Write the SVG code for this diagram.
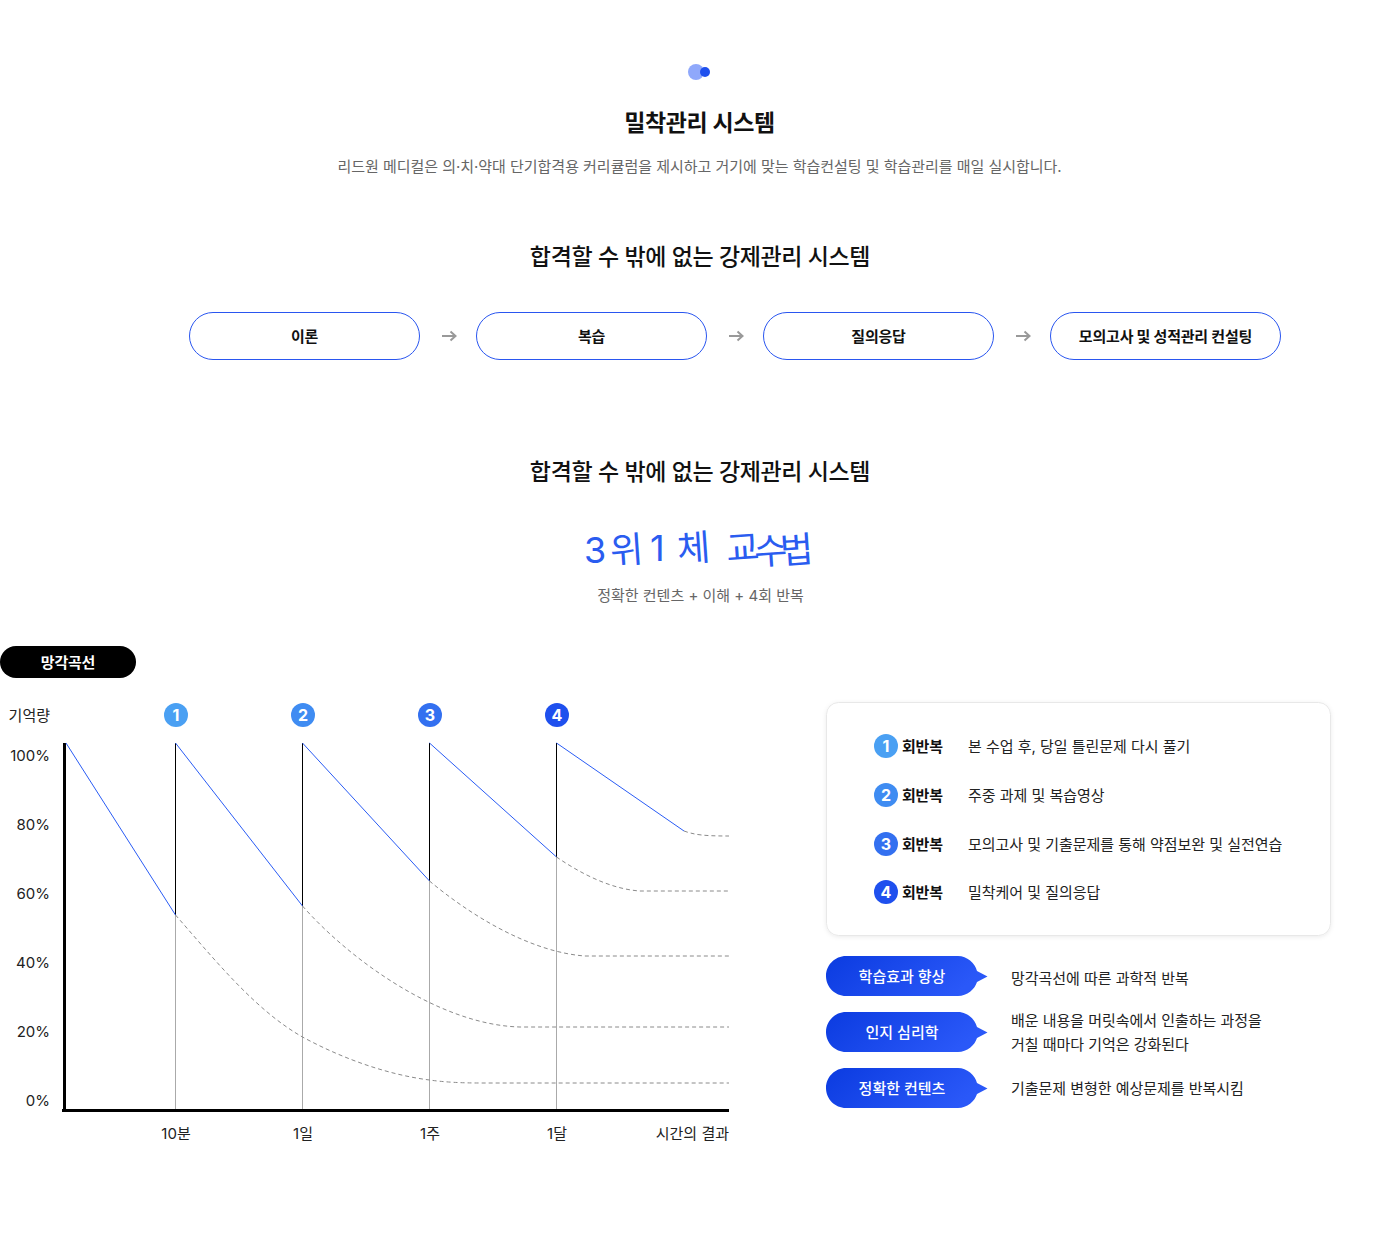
<svg xmlns="http://www.w3.org/2000/svg" width="1400" height="1234" viewBox="0 0 1400 1234">
<style>
text{font-family:Inter,"Noto Sans CJK KR",sans-serif;fill:#111}
.c{text-anchor:middle}.e{text-anchor:end}
.h1{font-size:23px;font-weight:700;letter-spacing:-.4px}
.h2{font-size:23px;font-weight:500;letter-spacing:-.39px}
.sub{font-size:15px;fill:#666;letter-spacing:-.03px}
.pill{fill:#fff;stroke:#2a56f0;stroke-width:1}
.pt{font-size:15px;font-weight:700;letter-spacing:-.2px}
.arr{fill:none;stroke:#999;stroke-width:2}
.ax{font-size:15px;fill:#222;letter-spacing:0}
.num{font-size:16px;font-weight:700;fill:#fff}
.blue{fill:none;stroke:#2a5cf5;stroke-width:1}
.blk{stroke:#000;stroke-width:1;fill:none}
.gry{stroke:#aaa;stroke-width:1;fill:none}
.dash{fill:none;stroke:#8a8a8a;stroke-width:1;stroke-dasharray:4 3}
.tag{font-size:15px;font-weight:500;fill:#fff;letter-spacing:0}
.bd{font-size:15px;font-weight:700;letter-spacing:-.2px}
.t{font-size:15px;fill:#222;letter-spacing:-.03px}
</style>
<defs>
<linearGradient id="g" x1="0" y1="0" x2="1" y2="0.3"><stop offset="0" stop-color="#0b3be0"/><stop offset="1" stop-color="#2a58f8"/></linearGradient>
<filter id="sh" x="-5%" y="-5%" width="110%" height="110%"><feDropShadow dx="0" dy="1" stdDeviation="2" flood-color="#000" flood-opacity=".08"/></filter>
<path id="bub" d="M846 0H958C967 0 975 7 977 15L987.500 20.500L977 26C975 33 967 40 958 40H846C835 40 826 31 826 20S835 0 846 0Z" fill="url(#g)"/>
</defs>
<g id="logo"><circle cx="696" cy="72" r="8" fill="#8fa8fb"/><circle cx="705" cy="72" r="5" fill="#1f50ee"/></g>
<g id="header">
<text class="h1 c" x="699.500" y="131">밀착관리 시스템</text>
<text class="sub c" x="699.500" y="172">리드원 메디컬은 의·치·약대 단기합격용 커리큘럼을 제시하고 거기에 맞는 학습컨설팅 및 학습관리를 매일 실시합니다.</text>
<text class="h2 c" x="700" y="265">합격할 수 밖에 없는 강제관리 시스템</text>
</g>
<g id="n1"><rect class="pill" x="189.500" y="312.500" width="230" height="47" rx="23.500"/><text class="pt c" x="304.500" y="342">이론</text></g>
<g id="n2"><rect class="pill" x="476.500" y="312.500" width="230" height="47" rx="23.500"/><text class="pt c" x="591.500" y="342">복습</text></g>
<g id="n3"><rect class="pill" x="763.500" y="312.500" width="230" height="47" rx="23.500"/><text class="pt c" x="878.500" y="342">질의응답</text></g>
<g id="n4"><rect class="pill" x="1050.500" y="312.500" width="230" height="47" rx="23.500"/><text class="pt c" x="1165.500" y="342">모의고사 및 성적관리 컨설팅</text></g>
<g id="connectors-top">
<path class="arr" d="M442 336H455M450.500 331.500L455.500 336L450.500 340.500"/>
<path class="arr" d="M729 336H742M737.500 331.500L742.500 336L737.500 340.500"/>
<path class="arr" d="M1016 336H1029M1024.500 331.500L1029.500 336L1024.500 340.500"/>
</g>
<g id="section2">
<text class="h2 c" x="700" y="480">합격할 수 밖에 없는 강제관리 시스템</text>
<text x="584 611 648 650 678 715 727 755 781" y="563 564 563 561 562 562 562 565 564" rotate="0 -4 0 0 -4 0 -4 -4 -4" style="font-size:36px;font-weight:400;fill:#2a5cf0">3위 1체 교수법</text>
<text class="sub c" x="700.500" y="601" style="letter-spacing:0">정확한 컨텐츠 + 이해 + 4회 반복</text>
</g>
<g id="badge"><rect x="0" y="646" width="136" height="32" rx="16" fill="#000"/><text class="c" x="68" y="667.500" style="fill:#fff;font-size:15px;font-weight:700;letter-spacing:-.2px">망각곡선</text></g>
<g id="chart-labels">
<text class="ax e" x="50" y="721">기억량</text>
<text class="ax e" x="50" y="761">100%</text><text class="ax e" x="50" y="830">80%</text><text class="ax e" x="50" y="899">60%</text><text class="ax e" x="50" y="968">40%</text><text class="ax e" x="50" y="1037">20%</text><text class="ax e" x="50" y="1106">0%</text>
<text class="ax c" x="176" y="1139">10분</text><text class="ax c" x="303" y="1139">1일</text><text class="ax c" x="430" y="1139">1주</text><text class="ax c" x="557" y="1139">1달</text><text class="ax e" x="729" y="1139">시간의 결과</text>
</g>
<g id="markers">
<circle cx="176" cy="715" r="12" fill="#4aa0f3"/><text class="num c" x="176" y="721">1</text>
<circle cx="303" cy="715" r="12" fill="#3f8cf2"/><text class="num c" x="303" y="721">2</text>
<circle cx="430" cy="715" r="12" fill="#3370f0"/><text class="num c" x="430" y="721">3</text>
<circle cx="557" cy="715" r="12" fill="#1f50ee"/><text class="num c" x="557" y="721">4</text>
</g>
<g id="chart">
<path class="gry" d="M175.500 915V1110M302.500 906V1110M429.500 881V1110M556.500 857V1110"/>
<path class="blk" d="M175.500 743V915M302.500 743V906M429.500 743V881M556.500 743V857"/>
<path d="M64.500 743V1112M62 1110.500H729" fill="none" stroke="#000" stroke-width="3"/>
<path class="blue" d="M66 743L175.500 915M175.500 743L302.500 906M302.500 743L429.500 881M429.500 743L556.500 857M556.500 743L684 831"/>
<path class="dash" d="M175.500 915C215 960 255 1010 302.500 1037C345 1060 390 1075 429.500 1080Q450 1083 480 1083H729"/>
<path class="dash" d="M302.500 906C350 960 440 1025 520 1027H729"/>
<path class="dash" d="M429.500 881C470 915 530 952 585 956H729"/>
<path class="dash" d="M556.500 857C580 873 610 889 640 891H729"/>
<path class="dash" d="M684 831C695 835 705 836 729 836"/>
</g>
<g id="card">
<rect x="826.500" y="702.500" width="504" height="233" rx="12" fill="#fff" stroke="#e8e8e8" filter="url(#sh)"/>
<circle cx="886" cy="746" r="12" fill="#4aa0f3"/><text class="num c" x="886" y="752">1</text><text class="bd" x="902" y="752">회반복</text><text class="t" x="968" y="752">본 수업 후, 당일 틀린문제 다시 풀기</text>
<circle cx="886" cy="795" r="12" fill="#3f8cf2"/><text class="num c" x="886" y="801">2</text><text class="bd" x="902" y="801">회반복</text><text class="t" x="968" y="801">주중 과제 및 복습영상</text>
<circle cx="886" cy="844" r="12" fill="#3370f0"/><text class="num c" x="886" y="850">3</text><text class="bd" x="902" y="850">회반복</text><text class="t" x="968" y="850">모의고사 및 기출문제를 통해 약점보완 및 실전연습</text>
<circle cx="886" cy="892" r="12" fill="#1f50ee"/><text class="num c" x="886" y="898">4</text><text class="bd" x="902" y="898">회반복</text><text class="t" x="968" y="898">밀착케어 및 질의응답</text>
</g>
<g id="tag1"><use href="#bub" y="956"/><text class="tag c" x="902" y="982">학습효과 향상</text><text class="t" x="1011" y="984">망각곡선에 따른 과학적 반복</text></g>
<g id="tag2"><use href="#bub" y="1012"/><text class="tag c" x="902" y="1038">인지 심리학</text><text class="t" x="1011" y="1026">배운 내용을 머릿속에서 인출하는 과정을</text><text class="t" x="1011" y="1050">거칠 때마다 기억은 강화된다</text></g>
<g id="tag3"><use href="#bub" y="1068"/><text class="tag c" x="902" y="1094">정확한 컨텐츠</text><text class="t" x="1011" y="1094">기출문제 변형한 예상문제를 반복시킴</text></g>
</svg>
